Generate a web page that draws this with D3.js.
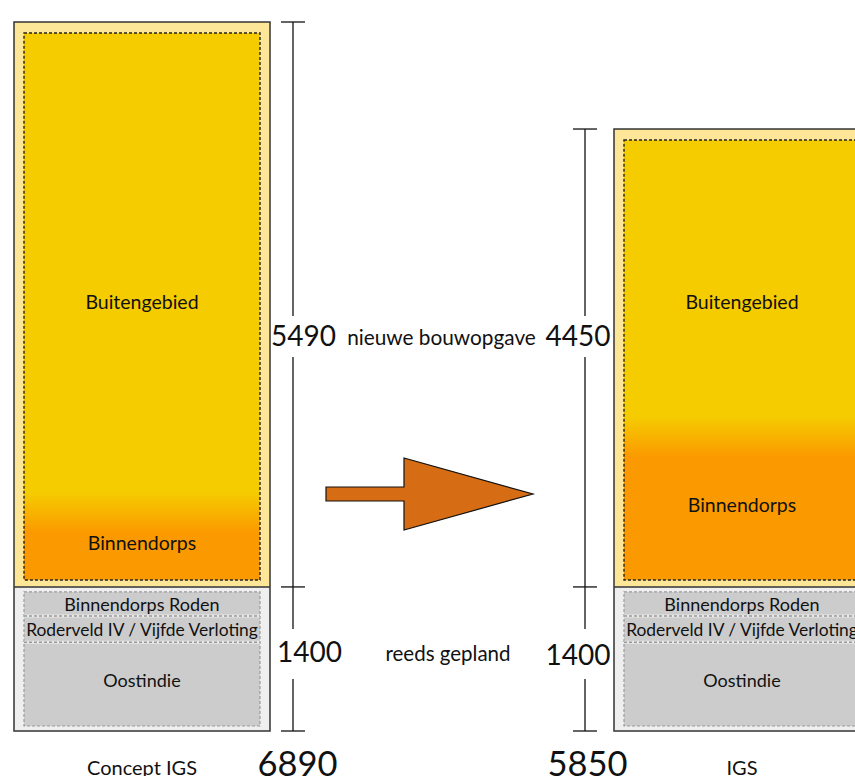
<!DOCTYPE html>
<html>
<head>
<meta charset="utf-8">
<script src="https://cdn.jsdelivr.net/npm/d3@7"></script>
<style>
  html, body { margin: 0; padding: 0; background: #fff; }
  svg { display: block; font-family: Lato, "Open Sans", sans-serif; }
</style>
</head>
<body>
<svg id="chart" width="855" height="776"></svg>
<script>
// Housing programme: planned dwellings per scenario
const scenarios = ["Concept IGS", "IGS"];
const totals = [6890, 5850];
const reedsGepland = [1400, 1400];
const nieuweBouwopgave = [5490, 4450];
const buitengebied = [4810, 3000];
const binnendorps = [680, 1450];
const geplandNames = ["Binnendorps Roden", "Roderveld IV / Vijfde Verloting", "Oostindie"];
const geplandValues = [250, 275, 875];
const sectionLabels = ["nieuwe bouwopgave", "reeds gepland"];

const svg = d3.select("#chart");

const y = d3.scaleLinear().domain([0, d3.max(totals)]).range([731, 22]);
const x = d3.scalePoint().domain(scenarios).range([142, 742]);
const barW = 256;

const COL = {
  paleYellow: "#fde698",
  yellow: "#f5cc00",
  orange: "#fb9a00",
  paleGrey: "#efefef",
  grey: "#cccccc",
  border: "#333"
};

const defs = svg.append("defs");

scenarios.forEach((s, i) => {
  const cx = x(s), x0 = cx - barW / 2, x1 = cx + barW / 2;
  const yBase = y(0), yMid = y(reedsGepland[i]), yTop = y(reedsGepland[i] + nieuweBouwopgave[i]);

  // new-build section (pale frame + inner dashed area)
  svg.append("rect").attr("x", x0).attr("y", yTop).attr("width", barW).attr("height", yMid - yTop)
    .attr("fill", COL.paleYellow);
  const inTop = yTop + 11, inBot = yMid - 7, inX = x0 + 10, inW = barW - 20;
  const yi = d3.scaleLinear().domain([0, buitengebied[i] + binnendorps[i]]).range([inBot, inTop]);
  const boundary = yi(binnendorps[i]);

  const gid = "grad" + i;
  const g = defs.append("linearGradient").attr("id", gid)
    .attr("gradientUnits", "userSpaceOnUse")
    .attr("x1", 0).attr("x2", 0).attr("y1", boundary - 20).attr("y2", boundary + 20);
  g.append("stop").attr("offset", 0).attr("stop-color", COL.yellow);
  g.append("stop").attr("offset", 1).attr("stop-color", COL.orange);

  svg.append("rect").attr("x", inX).attr("y", inTop).attr("width", inW).attr("height", inBot - inTop)
    .attr("fill", `url(#${gid})`)
    .attr("stroke", "#222").attr("stroke-width", 1.4).attr("stroke-dasharray", "3,2");

  // sub-labels of the new-build section
  svg.append("text").attr("x", cx).attr("y", 301).attr("text-anchor", "middle")
    .attr("dominant-baseline", "central").attr("font-size", 19.5).attr("fill", "#111")
    .text("Buitengebied");
  svg.append("text").attr("x", cx).attr("y", (boundary + inBot) / 2 - 4).attr("text-anchor", "middle")
    .attr("dominant-baseline", "central").attr("font-size", 19.5).attr("fill", "#111")
    .text("Binnendorps");

  // already planned section
  svg.append("rect").attr("x", x0).attr("y", yMid).attr("width", barW).attr("height", yBase - yMid)
    .attr("fill", COL.paleGrey);
  const gTop = yMid + 5, gBot = yBase - 5;
  const yg = d3.scaleLinear().domain([0, reedsGepland[i]]).range([gTop, gBot]);
  let acc = 0;
  const bands = geplandValues.map((v, k) => { const b = { name: geplandNames[k], y0: yg(acc), y1: yg(acc + v) }; acc += v; return b; });
  svg.append("rect").attr("x", inX).attr("y", gTop).attr("width", inW).attr("height", gBot - gTop)
    .attr("fill", COL.grey).attr("stroke", "#999").attr("stroke-width", 1.2).attr("stroke-dasharray", "3,2");
  bands.slice(0, -1).forEach(b => {
    svg.append("line").attr("x1", inX).attr("x2", inX + inW).attr("y1", b.y1).attr("y2", b.y1)
      .attr("stroke", "#e8e8e8").attr("stroke-width", 3);
    svg.append("line").attr("x1", inX).attr("x2", inX + inW).attr("y1", b.y1).attr("y2", b.y1)
      .attr("stroke", "#999").attr("stroke-width", 1.5).attr("stroke-dasharray", "3,2");
  });
  bands.forEach((b, k) => {
    svg.append("text").attr("x", cx).attr("y", k === 2 ? b.y0 + 38 : (b.y0 + b.y1) / 2)
      .attr("text-anchor", "middle").attr("dominant-baseline", "central")
      .attr("font-size", k === 2 ? 18 : (k === 0 ? 18 : 17.4)).attr("fill", "#111").text(b.name);
  });

  // outline of the whole bar
  svg.append("rect").attr("x", x0).attr("y", yTop).attr("width", barW).attr("height", yBase - yTop)
    .attr("fill", "none").attr("stroke", COL.border).attr("stroke-width", 1.5);
  svg.append("line").attr("x1", x0).attr("x2", x1).attr("y1", yMid).attr("y2", yMid)
    .attr("stroke", COL.border).attr("stroke-width", 1.5);

  // dimension line with value labels
  const dx = i === 0 ? x1 + 23 : x0 - 29;
  const dim = svg.append("g").attr("stroke", "#111").attr("stroke-width", 1.3);
  [yTop, yMid, yBase].forEach(t => dim.append("line").attr("x1", dx - 12).attr("x2", dx + 12).attr("y1", t).attr("y2", t));
  const gapTop = [316, 357], gapBot = [629, 679];
  dim.append("line").attr("x1", dx).attr("x2", dx).attr("y1", yTop).attr("y2", gapTop[0]);
  dim.append("line").attr("x1", dx).attr("x2", dx).attr("y1", gapTop[1]).attr("y2", gapBot[0]);
  dim.append("line").attr("x1", dx).attr("x2", dx).attr("y1", gapBot[1]).attr("y2", yBase);

  svg.append("text").attr("x", dx + (i === 0 ? 10.5 : -7)).attr("y", 346).attr("text-anchor", "middle")
    .attr("font-size", 28).attr("fill", "#111").text(nieuweBouwopgave[i]);
  svg.append("text").attr("x", dx + (i === 0 ? 16.5 : -7)).attr("y", 662 + i * 3).attr("text-anchor", "middle")
    .attr("font-size", 28).attr("fill", "#111").text(reedsGepland[i]);

  // scenario name and total
  svg.append("text").attr("x", cx).attr("y", 775).attr("text-anchor", "middle")
    .attr("font-size", 20).attr("fill", "#111").text(s);
  svg.append("text").attr("x", i === 0 ? 297.5 : 587.5).attr("y", 776).attr("text-anchor", "middle")
    .attr("font-size", 34.5).attr("fill", "#111").text(totals[i]);
});

// section captions between the bars
svg.append("text").attr("x", 441.5).attr("y", 345).attr("text-anchor", "middle")
  .attr("font-size", 20.8).attr("fill", "#111").text(sectionLabels[0]);
svg.append("text").attr("x", 448).attr("y", 661).attr("text-anchor", "middle")
  .attr("font-size", 20.5).attr("fill", "#111").text(sectionLabels[1]);

// arrow from the concept to the final scenario
const ay = 494;
const arrow = [[326, ay - 7], [404, ay - 7], [404, ay - 36], [533, ay], [404, ay + 36], [404, ay + 7], [326, ay + 7]];
svg.append("path").attr("d", d3.line()(arrow) + "Z")
  .attr("fill", "#d66d15").attr("stroke", "#111").attr("stroke-width", 1.2).attr("stroke-linejoin", "miter");
</script>
</body>
</html>
